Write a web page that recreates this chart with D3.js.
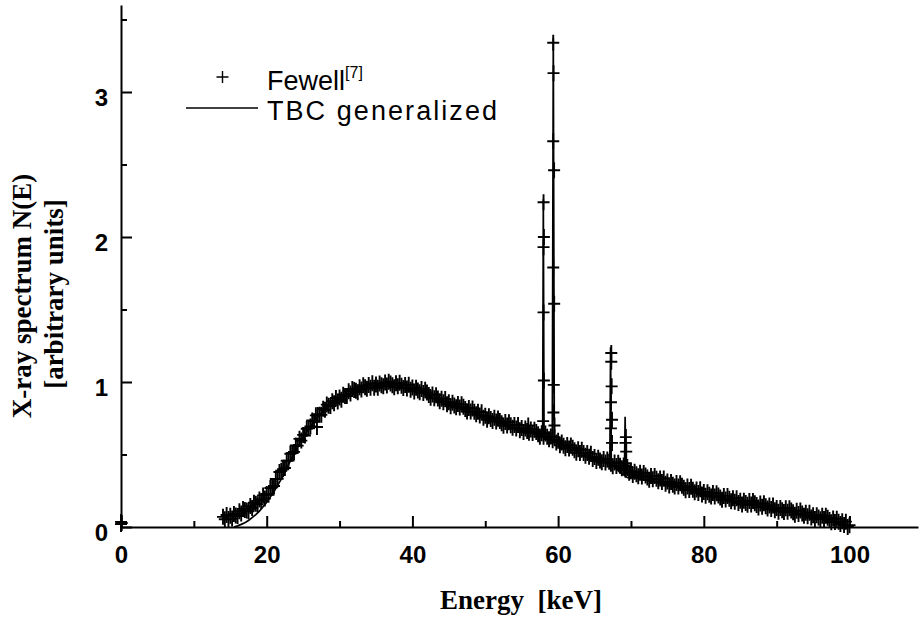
<!DOCTYPE html>
<html><head><meta charset="utf-8">
<script src="https://cdn.jsdelivr.net/npm/d3@7"></script>
<style>body{margin:0;background:#fff}svg{display:block}</style>
</head><body><svg id="c" width="919" height="619"></svg>
<script>
// ---------- data ----------
const xTicks = [0, 20, 40, 60, 80, 100];
const xMinor = [10, 30, 50, 70, 90];
const yTicks = [0, 1, 2, 3];
const yMinor = [0.5, 1.5, 2.5, 3.5];

// Fewell measured spectrum, sampled every 0.25 keV from 14 keV to 100 keV
const fewellStart = 14, fewellStep = 0.25;
const fewellValues = [
.070,.053,.083,.055, .077,.058,.090,.080, .076,.109,.093,.125, .118,.114,.108,.144, .131,.167,.160,.157,
.190,.180,.218,.197, .227,.222,.269,.273, .283,.331,.332,.379, .388,.398,.407,.457, .458,.505,.510,.518,
.562,.561,.608,.596, .635,.631,.678,.682, .693,.735,.729,.770, .773,.775,.774,.816, .808,.844,.837,.834,
.867,.854,.890,.866, .893,.877,.912,.904, .903,.936,.920,.952, .945,.939,.930,.964, .948,.977,.964,.954,
.980,.961,.991,.961, .982,.960,.990,.977, .970,.997,.976,1.002, .990,.978,.964,.991, .970,.994,.975,.959,
.980,.956,.981,.946, .962,.935,.960,.942, .930,.952,.925,.946, .928,.911,.892,.914, .888,.909,.886,.868,
.885,.860,.882,.846, .860,.833,.857,.838, .826,.849,.824,.846, .830,.814,.797,.821, .796,.817,.795,.777,
.795,.769,.791,.754, .768,.740,.763,.744, .731,.753,.727,.748, .731,.716,.699,.724, .700,.722,.702,.685,
.704,.679,.703,.667, .682,.655,.680,.662, .650,.673,.649,.671, .655,.640,.623,.647, .623,.645,.623,.606,
.624,.598,.619,.582, .595,.563,.583,.560, .543,.566,.541,.562, .546,.530,.512,.536, .511,.532,.510,.492,
.510,.484,.506,.469, .483,.455,.478,.459, .446,.469,.444,.466, .450,.436,.419,.445, .421,.443,.422,.405,
.424,.395,.414,.374, .385,.358,.381,.363, .350,.374,.349,.372, .356,.342,.326,.352, .329,.352,.332,.315,
.335,.310,.334,.298, .313,.286,.310,.292, .280,.303,.279,.301, .285,.270,.254,.279, .255,.277,.257,.240,
.259,.235,.260,.225, .241,.215,.239,.222, .210,.234,.210,.233, .218,.204,.188,.213, .190,.213,.194,.178,
.198,.175,.199,.165, .181,.156,.181,.165, .154,.179,.155,.179, .164,.151,.135,.162, .139,.163,.143,.128,
.148,.125,.149,.115, .131,.106,.131,.115, .104,.129,.105,.129, .114,.101,.085,.112, .089,.113,.093,.078,
.098,.075,.099,.065, .081,.056,.081,.065, .054,.078,.055,.078, .063,.049,.033,.058, .035,.057,.037,.020,
.039,.014,.037,.000, .012
];
// Fewell points on the characteristic lines and elsewhere
const fewellExtraE = [58.0,58.05,58.0,58.0,58.05,57.95,
  59.33,59.37,59.33,59.45,59.33,59.46,59.4,59.35,59.5,
  67.3,67.3,67.35,67.25,67.4,67.25,67.4,
  69.3,69.25,69.35,69.3,
  0,0,0.1,55.9,26.9];
const fewellExtraV = [2.24,2.0,1.93,1.48,1.01,0.73,
  3.34,3.13,2.66,2.46,1.79,1.54,0.98,0.79,0.70,
  1.20,1.14,0.97,0.86,0.74,0.68,0.58,
  0.62,0.58,0.52,0.44,
  0.02,0.035,0.028,0.70,0.69];

// TBC generalized model
const tbcE = [15.5,16,16.5,17,17.5,18,18.5,19,19.5,20,
  21,22,23,24,25,26,27,28,29,30,31,32,33,34,35,36,37,38,39,40,
  42,44,46,48,50,52,54,56,
  57.88,57.97,58.07,59.2,59.34,59.48,
  60,62,64,66,67.1,67.2,67.3,67.5,68,68.5,69.1,69.2,69.3,69.5,70,
  72,75,80,85,90,95,100];
const tbcV = [0,0.008,0.018,0.03,0.045,0.065,0.085,0.11,0.14,0.17,
  0.245,0.33,0.43,0.53,0.62,0.695,0.76,0.81,0.85,0.885,0.91,0.93,0.95,0.962,0.97,0.975,0.975,0.97,0.96,0.95,
  0.91,0.865,0.83,0.795,0.755,0.715,0.685,0.655,
  0.62,2.26,0.615,0.60,3.37,0.595,
  0.585,0.535,0.495,0.455,0.44,1.24,0.435,0.425,0.40,0.375,0.355,0.76,0.35,0.34,0.345,
  0.325,0.29,0.225,0.17,0.12,0.07,0.005];

// ---------- chart ----------
const svg = d3.select("#c");
const x = d3.scaleLinear().domain([0, 109.4]).range([121, 918]);
const y = d3.scaleLinear().domain([0, 3.6]).range([527, 5]);

const fewell = fewellValues.map((v, i) => ({e: fewellStart + i * fewellStep, v}))
  .concat(fewellExtraE.map((e, i) => ({e, v: fewellExtraV[i]})));
const tbc = tbcE.map((e, i) => ({e, v: tbcV[i]}));

const plus = "M-6,0H6M0,-8V8";
const legendPlus = "M-6,0H6M0,-6V6";

// markers
svg.append("g").selectAll("path").data(fewell).join("path")
  .attr("d", plus)
  .attr("transform", d => `translate(${x(d.e)},${y(d.v)})`)
  .attr("stroke", "#000").attr("stroke-width", 1.9).attr("fill", "none");

// model line
svg.append("path").datum(tbc)
  .attr("d", d3.line().x(d => x(d.e)).y(d => y(d.v)))
  .attr("fill", "none").attr("stroke", "#000").attr("stroke-width", 1.7);

// axes
const tickFont = "bold 24px 'Liberation Sans', Arial, sans-serif";
svg.append("g").attr("transform", "translate(0,527)")
  .call(d3.axisBottom(x).tickValues(xTicks).tickSizeInner(-11).tickSizeOuter(0).tickPadding(19).tickFormat(d3.format("d")));
svg.append("g").attr("transform", "translate(0,527)")
  .call(d3.axisBottom(x).tickValues(xMinor).tickSizeInner(-6).tickSizeOuter(0).tickFormat(""))
  .select(".domain").remove();
const ya = svg.append("g").attr("transform", "translate(121,0)")
  .call(d3.axisLeft(y).tickValues(yTicks).tickSizeInner(-11).tickSizeOuter(0).tickPadding(13).tickFormat(d3.format("d")));
svg.append("g").attr("transform", "translate(121,0)")
  .call(d3.axisLeft(y).tickValues(yMinor).tickSizeInner(-6).tickSizeOuter(0).tickFormat(""))
  .select(".domain").remove();
svg.selectAll(".domain, .tick line").attr("stroke", "#000").attr("stroke-width", 2);
svg.selectAll(".tick text").style("font", tickFont).attr("fill", "#000");
ya.selectAll(".tick text").attr("dy", "13.5px");

// axis titles
const titleFont = "bold 27px 'Liberation Serif', 'Times New Roman', serif";
svg.append("text").attr("x", 521).attr("y", 609).attr("text-anchor", "middle")
  .style("font", titleFont).attr("xml:space", "preserve").text("Energy  [keV]");
svg.append("text").attr("transform", "translate(31,296) rotate(-90)").attr("text-anchor", "middle")
  .style("font", titleFont).text("X-ray spectrum N(E)");
svg.append("text").attr("transform", "translate(63,294) rotate(-90)").attr("text-anchor", "middle")
  .style("font", titleFont).text("[arbitrary units]");

// legend
const legFont = "27px 'Liberation Sans', Arial, sans-serif";
svg.append("path").attr("d", legendPlus).attr("transform", "translate(222.5,77)")
  .attr("stroke", "#000").attr("stroke-width", 1.4).attr("fill", "none");
const t1 = svg.append("text").attr("x", 267).attr("y", 90).style("font", legFont);
t1.append("tspan").text("Fewell");
t1.append("tspan").attr("dy", -12).style("font-size", "16px").text("[7]");
svg.append("line").attr("x1", 186).attr("x2", 258).attr("y1", 108).attr("y2", 108)
  .attr("stroke", "#000").attr("stroke-width", 1.5);
svg.append("text").attr("x", 267).attr("y", 120).style("font", legFont)
  .attr("textLength", 230).attr("lengthAdjust", "spacing").text("TBC generalized");
</script>
</body></html>
